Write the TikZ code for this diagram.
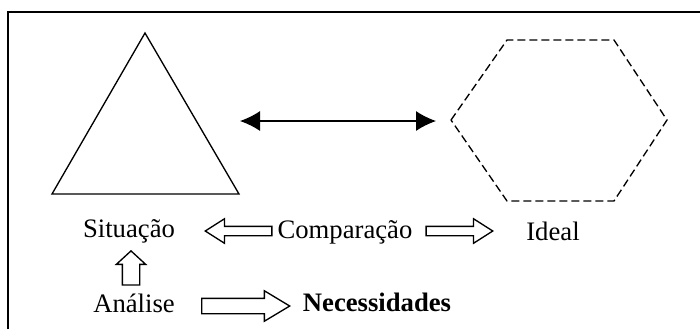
\documentclass[tikz,border=0pt]{standalone}
\usepackage{fontspec}
\setmainfont{Liberation Serif}
\usetikzlibrary{
  arrows.meta,
  shapes.arrows
}
\tikzset{
  word/.style={anchor=base, inner sep=0pt, font=\fontsize{12}{14}\selectfont},
  hollow arrow/.style={
    single arrow, draw, line width=0.6pt, fill=white,
    anchor=tip, inner sep=#1
  },
  dashed shape/.style={line width=0.6pt, dash pattern=on 3.6pt off 1.8pt}
}
\begin{document}
\begin{tikzpicture}[x=0.45pt, y=-0.45pt, line join=miter]
\useasboundingbox (0,0) rectangle (700,329);
\draw[line width=0.9pt] (8,329) -- (8,11.5) -- (700,11.5);

% triangle and hexagon
\coordinate (tri-top) at (145,33);
\coordinate (tri-left) at (52,194);
\coordinate (tri-right) at (239,194);
\draw[line width=0.6pt] (tri-top) -- (tri-right) -- (tri-left) -- cycle;

\coordinate (hex-left) at (451,120);
\coordinate (hex-right) at (667,120);
\draw[dashed shape] (hex-left) -- (507,40) -- (614,40) -- (hex-right)
  -- (614,201) -- (507,201) -- cycle;

\coordinate (link-a) at (240,121);
\coordinate (link-b) at (436,121);
\draw[line width=0.5pt, {Latex[length=9pt,width=9pt]}-{Latex[length=9pt,width=9pt]}] (link-a) -- (link-b);

% words
\node[word] (situacao) at (129,237) {Situação};
\node[word] (comparacao) at (345,238) {Comparação};
\node[word] (ideal) at (553,240) {Ideal};
\node[word] (analise) at (134,312) {Análise};
\node[word, font=\fontsize{12}{14}\selectfont\bfseries] (necessidades) at (377,311) {Necessidades};

% hollow arrows
\node[hollow arrow=1.8pt, shape border rotate=180, minimum height=30pt,
  single arrow head extend=3.4pt, single arrow tip angle=65] (cmp-sit) at (204,231) {};
\node[hollow arrow=1.8pt, minimum height=30pt,
  single arrow head extend=3.4pt, single arrow tip angle=65] (cmp-ide) at (494,231) {};
\node[hollow arrow=3.6pt, shape border rotate=90, minimum height=15.3pt,
  single arrow head extend=2.7pt, single arrow tip angle=95] (ana-sit) at (131,250) {};
\node[hollow arrow=3.15pt, minimum height=39.6pt,
  single arrow head extend=3.4pt, single arrow tip angle=62] (ana-nec) at (291,306) {};
\end{tikzpicture}
\end{document}
